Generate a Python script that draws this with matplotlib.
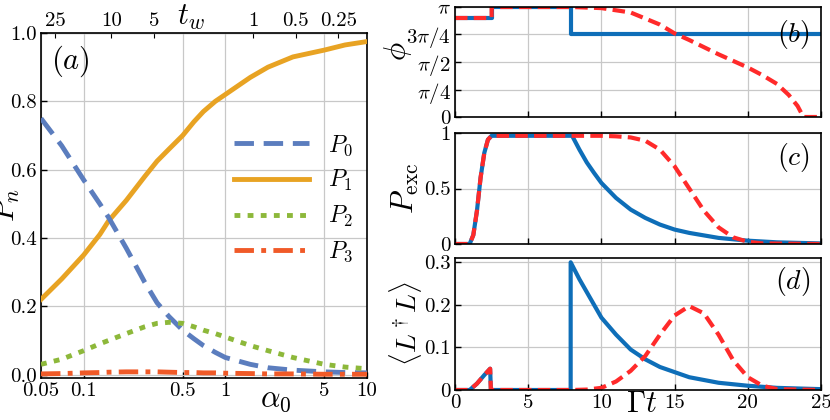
import numpy as np
import matplotlib
matplotlib.use("Agg")
import matplotlib.pyplot as plt

plt.rcParams.update({"font.family": "serif", "font.serif": ["cmr10", "DejaVu Serif"],
                     "mathtext.fontset": "cm", "axes.formatter.use_mathtext": True,
                     "axes.unicode_minus": False})

# ---- panel (a) data ----
alpha0 = [0.05, 0.07, 0.1, 0.13, 0.15, 0.2, 0.27, 0.33, 0.4, 0.5, 0.6, 0.7, 0.85, 1.0, 1.5, 2.0, 3.0, 5.0, 7.0, 10.0]
P0 = [0.75, 0.67, 0.57, 0.50, 0.46, 0.37, 0.27, 0.21, 0.17, 0.13, 0.105, 0.085, 0.065, 0.05, 0.03, 0.02, 0.013, 0.008, 0.006, 0.005]
P1 = [0.22, 0.28, 0.35, 0.41, 0.45, 0.51, 0.58, 0.625, 0.66, 0.70, 0.74, 0.77, 0.80, 0.82, 0.87, 0.90, 0.93, 0.95, 0.965, 0.975]
P2 = [0.03, 0.045, 0.07, 0.09, 0.10, 0.12, 0.14, 0.15, 0.153, 0.15, 0.14, 0.13, 0.12, 0.11, 0.085, 0.07, 0.05, 0.03, 0.022, 0.017]
P3 = [0.002, 0.003, 0.005, 0.006, 0.007, 0.008, 0.008, 0.008, 0.007, 0.006, 0.006, 0.005, 0.005, 0.004, 0.003, 0.002, 0.002, 0.001, 0.001, 0.001]
tw_ticks = [25, 10, 5, 1, 0.5, 0.25]
alpha_ticks = [0.05, 0.1, 0.5, 1, 5, 10]

# ---- panels (b)-(d) data ----
t_phi_blue = [0, 2.5, 2.5, 7.9, 7.9, 25]
phi_blue = [0.9, 0.9, 1.0, 1.0, 0.75, 0.75]           # in units of pi
t_phi_red = [0, 2.5, 2.5, 8, 10, 12, 14, 15, 16, 18, 20, 21, 22, 22.8, 23.4, 23.8, 25]
phi_red = [0.9, 0.9, 1.0, 1.0, 0.99, 0.95, 0.84, 0.76, 0.70, 0.57, 0.45, 0.38, 0.30, 0.20, 0.10, 0.0, 0.0]

t_exc_blue = [0, 1, 1.25, 1.5, 1.75, 2, 2.25, 2.5, 8, 8.5, 9, 9.5, 10, 11, 12, 13, 14, 15, 16, 18, 20, 22, 25]
exc_blue = [0, 0, 0.08, 0.3, 0.6, 0.82, 0.94, 0.975, 0.975, 0.85, 0.735, 0.64, 0.55, 0.415, 0.31, 0.235, 0.175, 0.13, 0.10, 0.055, 0.03, 0.015, 0.005]
t_exc_red = [0, 1, 1.25, 1.5, 1.75, 2, 2.25, 2.5, 8, 10, 11, 12, 13, 14, 15, 16, 17, 18, 19, 20, 21, 25]
exc_red = [0, 0, 0.08, 0.3, 0.6, 0.82, 0.94, 0.975, 0.975, 0.975, 0.97, 0.96, 0.93, 0.85, 0.70, 0.50, 0.30, 0.15, 0.06, 0.02, 0.005, 0.0]

t_L_blue = [0, 1, 1.5, 2, 2.4, 2.45, 7.9, 7.9, 8.5, 9, 10, 11, 12, 13, 14, 16, 18, 20, 22, 25]
L_blue = [0, 0, 0.015, 0.035, 0.05, 0, 0, 0.3, 0.26, 0.23, 0.17, 0.13, 0.095, 0.072, 0.054, 0.03, 0.017, 0.01, 0.005, 0.002]
t_L_red = [0, 1, 1.5, 2, 2.4, 2.45, 8, 9, 10, 11, 12, 13, 14, 15, 16, 17, 18, 19, 20, 21, 22, 25]
L_red = [0, 0, 0.015, 0.035, 0.05, 0, 0, 0.001, 0.005, 0.02, 0.045, 0.08, 0.13, 0.175, 0.197, 0.18, 0.13, 0.07, 0.03, 0.01, 0.002, 0.0]

W, H = 830, 420
fig = plt.figure(figsize=(8.3, 4.2), dpi=100)
TS = 15
gridkw = dict(color="#c8c8c8", lw=0.9)

def style(ax):
    ax.tick_params(direction="in", labelsize=TS, length=4, width=1, pad=3)
    for s in ax.spines.values():
        s.set_linewidth(1.2)

# panel (a)
ax = fig.add_axes([41/W, 1-378/H, 326/W, 345/H])
ax.plot(alpha0, P1, color="#E8A323", lw=3.5, label="$P_1$", zorder=3)
ax.plot(alpha0, P0, color="#5B7DBE", lw=3.5, ls=(0, (4, 2)), label="$P_0$", zorder=3)
ax.plot(alpha0, P2, color="#8DB83A", lw=3.5, ls=(0, (1.2, 1.5)), label="$P_2$", zorder=3)
ax.plot(alpha0, P3, color="#F05A28", lw=3.5, ls=(0, (4, 1.5, 1, 1.5)), label="$P_3$", zorder=3)
ax.set_xscale("log")
ax.set_xlim(0.05, 10)
ax.set_ylim(-0.01, 1.0)
ax.set_xticks(alpha_ticks)
ax.set_xticklabels([str(a) for a in alpha_ticks])
ax.xaxis.set_minor_locator(matplotlib.ticker.NullLocator())
ax.set_yticks([0, 0.2, 0.4, 0.6, 0.8, 1.0])
ax.set_yticklabels(["0.0", "0.2", "0.4", "0.6", "0.8", "1.0"])
ax.grid(True, **gridkw)
style(ax)
ax.text(-0.105, 0.5, "$P_n$", transform=ax.transAxes, fontsize=22, ha="center", va="center", rotation=90)
ax.text(0.72, -0.065, r"$\alpha_0$", transform=ax.transAxes, fontsize=22, ha="center", va="center")
ax.text(0.03, 0.97, "$(a)$", transform=ax.transAxes, fontsize=22, ha="left", va="top")
h, l = ax.get_legend_handles_labels()
order = [1, 0, 2, 3]
ax.legend([h[i] for i in order], [l[i] for i in order], loc="center right", bbox_to_anchor=(1.0, 0.52),
          frameon=False, fontsize=17, handlelength=3.2, labelspacing=0.45, borderaxespad=0.2)
k = np.pi / 2
sec = ax.secondary_xaxis("top", functions=(lambda a: k / a, lambda t: k / t))
sec.set_xticks(tw_ticks)
sec.set_xticklabels([str(t) for t in tw_ticks])
sec.xaxis.set_minor_locator(matplotlib.ticker.NullLocator())
sec.tick_params(direction="in", labelsize=TS, pad=2)
ax.text(0.46, 1.045, "$t_w$", transform=ax.transAxes, fontsize=22, ha="center", va="center")

BLUE, RED = "#0E6EB8", "#FF2A2A"
L0, WID = 455/W, 366/W
def raxes(top, bot):
    a = fig.add_axes([L0, 1-bot/H, WID, (bot-top)/H])
    a.set_xlim(0, 25)
    a.set_xticks([0, 5, 10, 15, 20, 25])
    a.grid(True, **gridkw)
    style(a)
    return a

dash = (0, (3, 1.5))
axb = raxes(7, 117)
axb.plot(t_phi_blue, np.array(phi_blue) * np.pi, color=BLUE, lw=3)
axb.plot(t_phi_red, np.array(phi_red) * np.pi, color=RED, lw=3, ls=dash)
axb.set_ylim(0, np.pi)
axb.set_yticks(np.array([0, 0.25, 0.5, 0.75, 1]) * np.pi)
axb.set_yticklabels(["0", r"$\pi/4$", r"$\pi/2$", r"$3\pi/4$", r"$\pi$"])
axb.set_xticklabels([])
axb.text(-0.155, 0.6, r"$\phi$", transform=axb.transAxes, fontsize=22, ha="center", va="center", rotation=90)
axb.text(0.97, 0.75, "$(b)$", transform=axb.transAxes, fontsize=20, ha="right", va="center")

axc = raxes(133, 244)
axc.plot(t_exc_blue, exc_blue, color=BLUE, lw=3)
axc.plot(t_exc_red, exc_red, color=RED, lw=3, ls=dash)
axc.set_ylim(0, 1)
axc.set_yticks([0, 0.5, 1])
axc.set_yticklabels(["0", "0.5", "1"])
axc.set_xticklabels([])
axc.set_ylabel(r"$P_{\rm exc}$", fontsize=22, labelpad=2)
axc.text(0.97, 0.78, "$(c)$", transform=axc.transAxes, fontsize=20, ha="right", va="center")

axd = raxes(258, 390)
axd.plot(t_L_blue, L_blue, color=BLUE, lw=3)
axd.plot(t_L_red, L_red, color=RED, lw=3, ls=dash)
axd.set_ylim(0, 0.31)
axd.set_yticks([0, 0.1, 0.2, 0.3])
axd.set_yticklabels(["0", "0.1", "0.2", "0.3"])
axd.set_xticklabels(["0", "5", "10", "15", "20", "25"])
axd.set_ylabel(r"$\langle L^\dagger L\rangle$", fontsize=20, labelpad=0)
axd.text(0.51, -0.11, r"$\Gamma t$", transform=axd.transAxes, fontsize=22, ha="center", va="center")
axd.text(0.97, 0.82, "$(d)$", transform=axd.transAxes, fontsize=20, ha="right", va="center")

fig.savefig("out.png", dpi=100)
